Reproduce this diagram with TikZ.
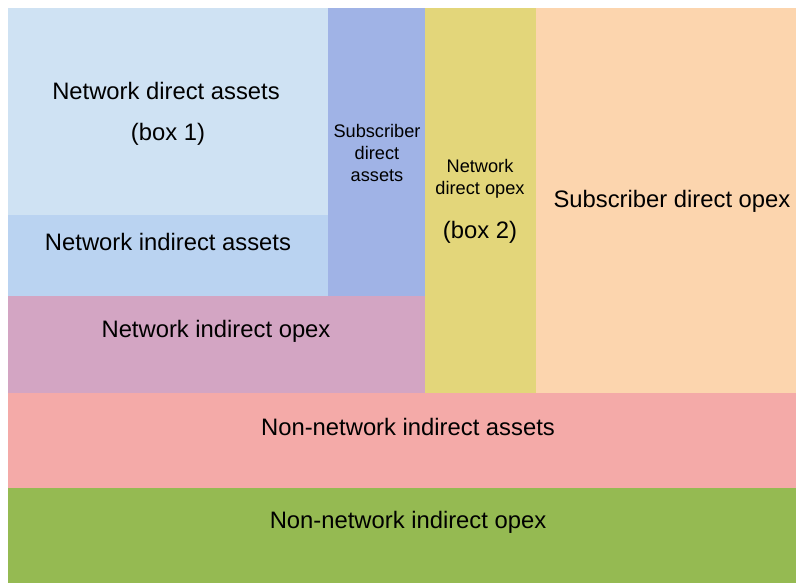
\documentclass[tikz,border=0pt]{standalone}
\usepackage{fontspec}
\setmainfont{Liberation Sans}
\definecolor{cNDA}{HTML}{CFE2F3}
\definecolor{cNIA}{HTML}{BAD3F1}
\definecolor{cSDA}{HTML}{A0B3E6}
\definecolor{cNDO}{HTML}{E3D67A}
\definecolor{cSDO}{HTML}{FCD5AE}
\definecolor{cNIO}{HTML}{D3A5C3}
\definecolor{cNNA}{HTML}{F4AAA8}
\definecolor{cNNO}{HTML}{95BA52}
\tikzset{
  blk/.style={fill=#1, draw=none},
  big/.style={font=\fontsize{23.8}{28}\selectfont, inner sep=0pt, align=center},
  small/.style={font=\fontsize{18.2}{22}\selectfont, inner sep=0pt, align=center},
}
\begin{document}
\begin{tikzpicture}[x=1pt,y=-1pt]
\useasboundingbox (0,0) rectangle (796,583);
\fill[white] (0,0) rectangle (796,583);
% blocks
\path[blk=cNDA] (8,8) rectangle (328,215);
\path[blk=cNIA] (8,215) rectangle (328,296);
\path[blk=cSDA] (328,8) rectangle (425,296);
\path[blk=cNDO] (425,8) rectangle (536,393);
\path[blk=cSDO] (536,8) rectangle (796,393);
\path[blk=cNIO] (8,296) rectangle (425,393);
\path[blk=cNNA] (8,393) rectangle (796,488);
\path[blk=cNNO] (8,488) rectangle (796,583);
% labels
\node[big] (nda) at (166,91) {Network direct assets};
\node[big] (box1) at (168,134) {(box 1)};
\node[big] (nia) at (168,242) {Network indirect assets};
\node[small] (sda) at (377,153) {Subscriber\\direct\\assets};
\node[small] (ndo) at (480,179) {Network\\direct opex};
\node[big] (box2) at (480,232) {(box 2)};
\node[big] (sdo) at (672,201) {Subscriber direct opex};
\node[big] (nio) at (216,331) {Network indirect opex};
\node[big] (nna) at (408,427) {Non-network indirect assets};
\node[big] (nno) at (408,522) {Non-network indirect opex};
\end{tikzpicture}
\end{document}
